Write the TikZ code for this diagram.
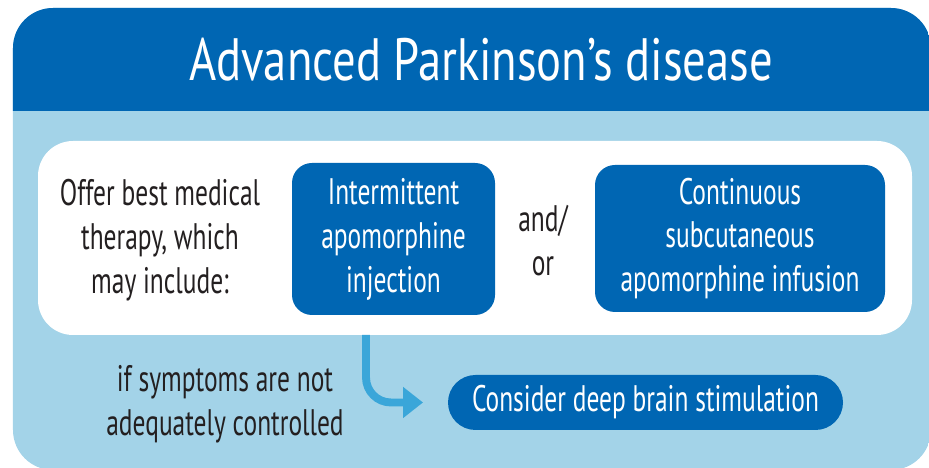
\documentclass[tikz,border=0pt]{standalone}
\usepackage{fontspec}
\setmainfont[FakeStretch=0.69]{PT Sans}
\newfontfamily\headfont[FakeStretch=0.78]{PT Sans}
\definecolor{D}{RGB}{0,102,179}
\definecolor{L}{RGB}{163,211,232}
\definecolor{A}{RGB}{58,166,217}
\definecolor{K}{RGB}{35,31,32}
\usetikzlibrary{arrows.meta}
\usetikzlibrary{positioning}
\tikzstyle{base}=[inner sep=0pt, outer sep=0pt]
\tikzstyle{drug}=[fill=D, rounded corners=0.4cm, text=white, align=center]
\tikzstyle{note}=[text=K, align=center]

\begin{document}
\begin{tikzpicture}[base]
    \fontsize{21}{25}\selectfont
        \useasboundingbox (0,0) rectangle (18.58,9.36);
        \begin{scope}
            \clip [rounded corners=0.8cm] (0.26,-0.04) rectangle (18.62,9.2);
            \fill [L] (0,-0.1) rectangle (18.7,9.3);
            \fill [D] (0,7.14) rectangle (18.7,9.3);
        \end{scope}
        \node [white, font=\headfont\fontsize{34}{40}\selectfont] (title) at (9.62,8.16) {Advanced Parkinson’s disease};
        \node [fill=white, rounded corners=0.7cm, minimum width=17.48cm, minimum height=3.88cm] (panel) at (9.5,4.6) {};
        \node [note] (offer) at (3.2,4.56) {Offer best medical\\therapy, which\\may include:};
        \node [drug, minimum width=4.06cm, minimum height=3.04cm] (inject) at (7.87,4.58) {Intermittent\\apomorphine\\injection};
        \node [note] (andor) at (10.86,4.54) {and/\\or};
        \node [drug, minimum width=5.8cm, minimum height=2.94cm] (infuse) at (14.8,4.59) {Continuous\\subcutaneous\\apomorphine infusion};
        \node [note] (ifnot) at (4.5,1.28) {if symptoms are not\\adequately controlled};
        \node [drug, rounded corners=0.55cm, minimum width=7.9cm, minimum height=1.1cm] (dbs) at (12.91,1.31) {Consider deep brain stimulation};
        \coordinate (bend) at (7.32,1.31);
        \draw [A, line width=4.5pt, rounded corners=0.5cm, -{Triangle[length=0.4cm,width=0.6cm]}] (panel.south -| bend) -- (bend) -- ([xshift=-0.5cm]dbs.west);
    \end{tikzpicture}
\end{document}
